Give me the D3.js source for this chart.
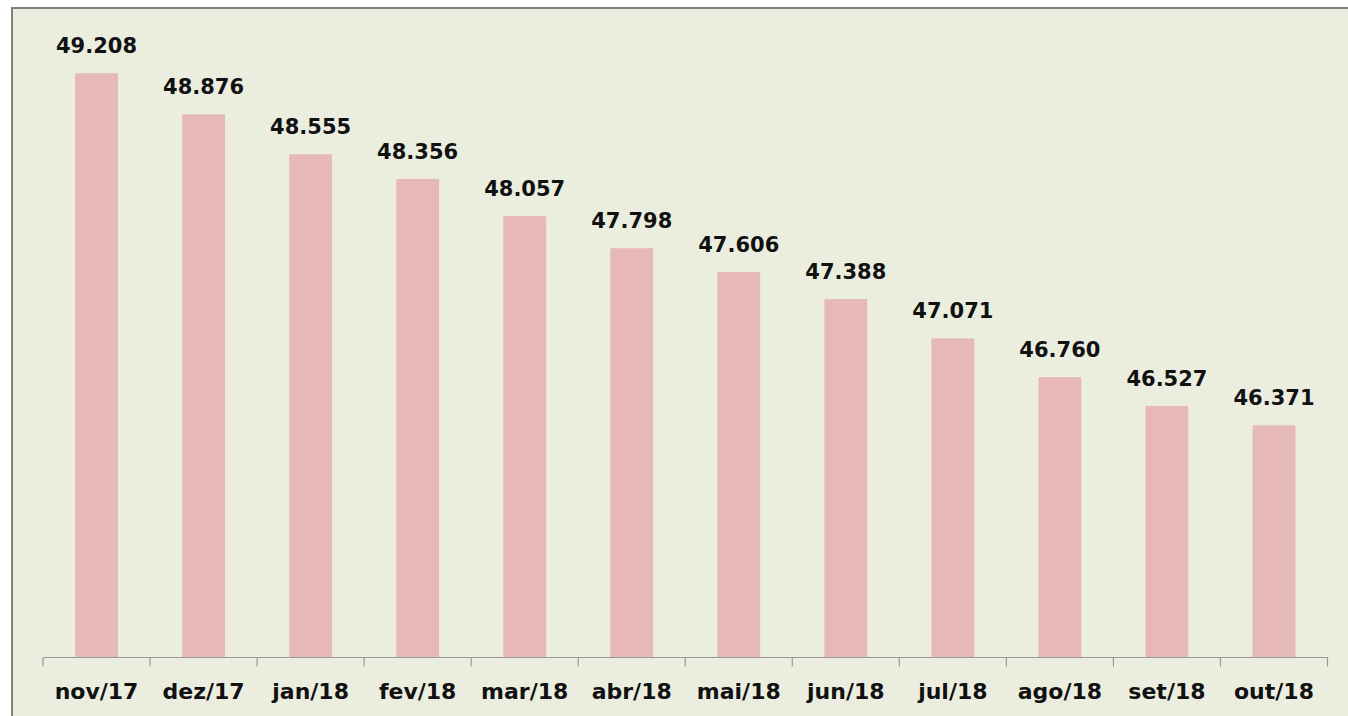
<!DOCTYPE html>
<html>
<head>
<meta charset="utf-8">
<script src="https://cdn.jsdelivr.net/npm/d3@7"></script>
<style>
	body { margin: 0; background: #fff; }
	svg { display: block; }
	.valLabel, .axis text { font-family: "DejaVu Sans", Verdana, sans-serif; font-weight: bold; fill: #111; }
</style>
</head>
<body>
<script>
//chart data
var months = ["nov/17", "dez/17", "jan/18", "fev/18", "mar/18", "abr/18",
		"mai/18", "jun/18", "jul/18", "ago/18", "set/18", "out/18"];
var totals = [49.208, 48.876, 48.555, 48.356, 48.057, 47.798,
		47.606, 47.388, 47.071, 46.760, 46.527, 46.371];
var yDomain = [44.5, 49.5];

(function(){
	var width = 1348,
		height = 716;

	var svg = d3.select("body")
		.append("svg")
		.attr("width", width)
		.attr("height", height);

	//frame background with grey top/left edge
	svg.append("rect")
		.attr("x", 11).attr("y", 7)
		.attr("width", width - 11).attr("height", height - 7)
		.attr("fill", "#808080");
	svg.append("rect")
		.attr("x", 13).attr("y", 9)
		.attr("width", width - 13).attr("height", height - 9)
		.attr("fill", "#EBEEDF");

	var baseY = 657.5;

	var x = d3.scaleBand()
		.domain(months)
		.range([43, 1327.5])
		.paddingInner(0.6)
		.paddingOuter(0.3);

	var y = d3.scaleLinear()
		.domain(yDomain)
		.range([baseY, 37]);

	var data = months.map(function(m, i){ return {m: m, v: totals[i]}; });

	svg.selectAll(".bar")
		.data(data)
		.enter()
		.append("rect")
		.attr("class", "bar")
		.attr("x", function(d){ return x(d.m); })
		.attr("width", x.bandwidth())
		.attr("y", function(d){ return y(d.v); })
		.attr("height", function(d){ return baseY - y(d.v); })
		.attr("fill", "#E6B8B7");

	svg.selectAll(".valLabel")
		.data(data)
		.enter()
		.append("text")
		.attr("class", "valLabel")
		.attr("x", function(d){ return x(d.m) + x.bandwidth() / 2; })
		.attr("y", function(d){ return y(d.v) - 20; })
		.attr("text-anchor", "middle")
		.style("font-size", "21px")
		.text(function(d){ return d3.format(".3f")(d.v); });

	//category axis: line plus ticks at band edges
	var xAxis = svg.append("g").attr("class", "axis");
	var left = 43, right = 1327.5;
	xAxis.append("line")
		.attr("x1", left).attr("x2", right)
		.attr("y1", baseY).attr("y2", baseY)
		.attr("stroke", "#999").attr("stroke-width", 1.2);
	var edges = d3.range(months.length + 1).map(function(i){
		return left + i * (right - left) / months.length;
	});
	xAxis.selectAll(".tick")
		.data(edges)
		.enter()
		.append("line")
		.attr("x1", function(d){ return d; })
		.attr("x2", function(d){ return d; })
		.attr("y1", baseY).attr("y2", baseY + 9)
		.attr("stroke", "#999").attr("stroke-width", 1.2);
	xAxis.selectAll(".catLabel")
		.data(months)
		.enter()
		.append("text")
		.attr("x", function(d){ return x(d) + x.bandwidth() / 2; })
		.attr("y", 699)
		.attr("text-anchor", "middle")
		.style("font-size", "22px")
		.text(function(d){ return d; });
})();
</script>
</body>
</html>
